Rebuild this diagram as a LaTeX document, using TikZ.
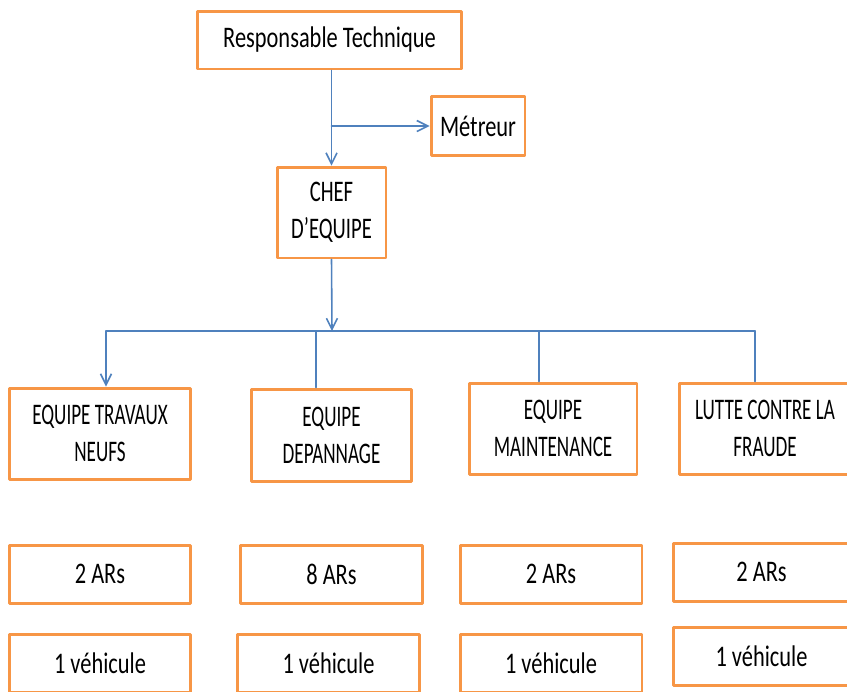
\documentclass[tikz,border=0pt]{standalone}
\usepackage{fontspec}
\setmainfont{Carlito}[FakeStretch=0.75]
\newfontfamily\capsfont{Carlito}[FakeStretch=0.69]
\newfontfamily\teamfont{Carlito}[FakeStretch=0.64]
\usepackage{tikz}
\usetikzlibrary{arrows.meta, calc}
\definecolor{boxorange}{HTML}{F79646}
\definecolor{lineblue}{HTML}{4F81BD}

\begin{document}
\begin{tikzpicture}[x=0.02cm, y=-0.02cm, line cap=round, line join=round,
  font=\fontsize{17}{21}\selectfont,
  box/.style={draw=boxorange, line width=1.7pt, fill=white, align=center, inner sep=0pt},
  capsbox/.style={box, font=\fontsize{17}{21}\selectfont\capsfont},
  teambox/.style={box, font=\fontsize{17}{21}\selectfont\teamfont},
  link/.style={draw=lineblue, line width=0.9pt},
  arr/.style={link, -{Straight Barb[length=2.2mm, width=2.2mm]}}]

\useasboundingbox (0,0) rectangle (847,691);

% --- Niveau 1 ---
\node[box, minimum width=5.3cm, minimum height=1.16cm] (resp) at (329.5,40) {Responsable Technique};
\node[box, minimum width=1.88cm, minimum height=1.18cm] (metreur) at (478,126) {Métreur};
\node[capsbox, minimum width=2.18cm, minimum height=1.82cm] (chef) at (331.5,212.5) {CHEF\\D’EQUIPE};

% --- Equipes ---
\node[teambox, minimum width=3.64cm, minimum height=1.82cm] (trav) at (100,433.5) {EQUIPE TRAVAUX\\NEUFS};
\node[teambox, minimum width=3.22cm, minimum height=1.84cm] (dep) at (331.5,435) {EQUIPE\\DEPANNAGE};
\node[teambox, minimum width=3.36cm, minimum height=1.82cm] (maint) at (553,428.5) {EQUIPE\\MAINTENANCE};
\node[teambox, minimum width=3.42cm, minimum height=1.82cm] (lutte) at (765,428.5) {LUTTE CONTRE LA\\FRAUDE};

% --- Moyens ---
\node[box, minimum width=3.64cm, minimum height=1.16cm] (ar1) at (100,574) {2 ARs};
\node[box, minimum width=3.66cm, minimum height=1.16cm] (ar2) at (331.5,574) {8 ARs};
\node[box, minimum width=3.64cm, minimum height=1.16cm] (ar3) at (551,574) {2 ARs};
\node[box, minimum width=3.54cm, minimum height=1.16cm] (ar4) at (761.5,572) {2 ARs};

\node[box, minimum width=3.64cm, minimum height=1.16cm] (v1) at (100,663) {1 véhicule};
\node[box, minimum width=3.66cm, minimum height=1.16cm] (v2) at (328.5,663) {1 véhicule};
\node[box, minimum width=3.64cm, minimum height=1.16cm] (v3) at (551,663) {1 véhicule};
\node[box, minimum width=3.54cm, minimum height=1.16cm] (v4) at (761.5,656) {1 véhicule};

% --- Liaisons ---
\coordinate (branch) at (chef.north |- metreur.west);
\coordinate (bus) at (332,331);
\coordinate (busL) at (106,331);
\coordinate (busD) at (316,331);
\coordinate (busM) at (539,331);
\coordinate (busR) at (755,331);

\draw[arr] (chef.north |- resp.south) -- (chef.north);
\draw[arr] (branch) -- (metreur.west);
\draw[arr] (chef.south) -- (bus);
\draw[link] (busL) -- (busR);
\draw[arr] (busL) -- (busL |- trav.north);
\draw[link] (busD) -- (busD |- dep.north);
\draw[link] (busM) -- (busM |- maint.north);
\draw[link] (busR) -- (busR |- lutte.north);
\end{tikzpicture}
\end{document}
